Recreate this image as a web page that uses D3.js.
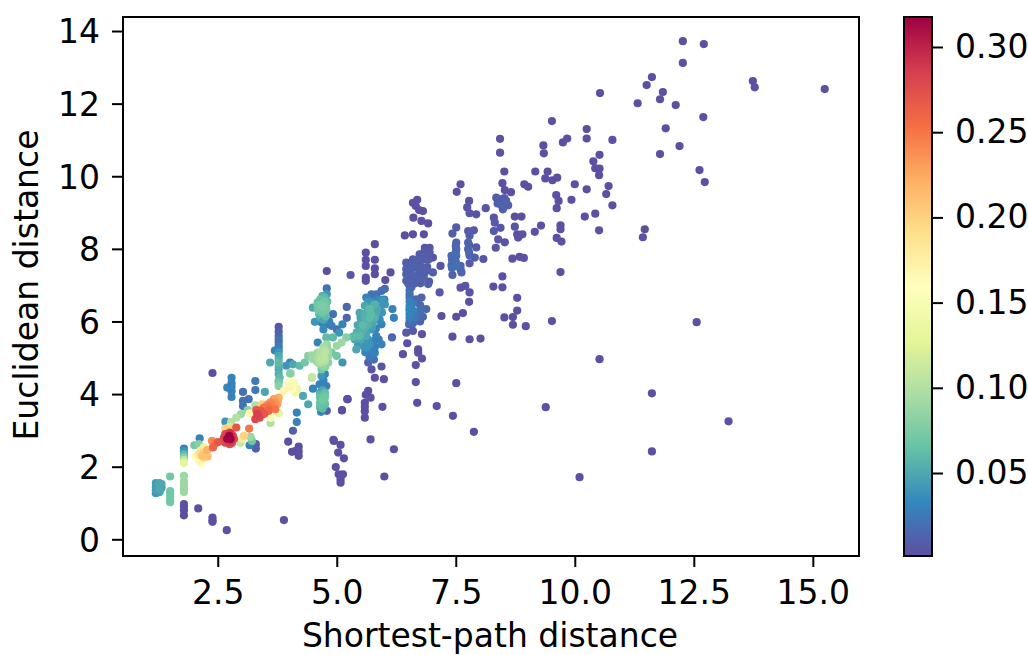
<!DOCTYPE html>
<html>
<head>
<meta charset="utf-8">
<script src="https://cdn.jsdelivr.net/npm/d3@7"></script>
<style>
  html, body { margin: 0; padding: 0; background: #fff; overflow: hidden; }
  svg { display: block; }
  text { font-family: "DejaVu Sans", sans-serif; fill: #000; }
</style>
</head>
<body>
<div id="chart"></div>
<script>
const xTicks = [2.5, 5, 7.5, 10, 12.5, 15];
const yTicks = [0, 2, 4, 6, 8, 10, 12, 14];
const colorTicks = [0.05, 0.1, 0.15, 0.2, 0.25, 0.3];
const colorRange = [0.0013, 0.3176];

// one line per cluster, same order in all three arrays
const shortestPath = [
  1.2,1.2,1.2,1.2,1.28,1.28,1.28,1.28,1.32,1.32,
  1.5,1.5,1.5,1.5,1.5,1.5,
  1.79,1.79,1.79,1.79,1.79,1.79,
  1.79,1.79,1.79,1.79,1.79,1.79,
  1.79,1.79,1.79,1.79,2.09,2.39,2.39,2.39,2.69,3.89,
  2.12,2.01,2.1,2.21,2.07,2.14,2.17,2.12,2.15,2.24,2.29,2.21,2.1,2.03,
  2.4,2.45,2.38,2.28,2.51,
  2.66,2.78,2.75,2.66,2.8,2.89,
  2.66,2.75,2.82,2.7,2.77,2.84,2.66,2.75,2.8,2.63,
  3.16,3.05,3.01,2.98,3.19,3.22,3.17,3.3,3.3,
  2.89,2.99,3.13,3.17,3.29,
  3.29,3.33,3.4,3.31,3.47,3.55,3.43,3.61,3.68,3.64,3.75,3.71,3.78,3.57,3.47,3.38,
  3.61,3.61,3.78,
  3.89,4.0,4.1,4.06,4.17,4.13,4.01,
  2.39,2.79,2.79,2.79,2.79,2.79,2.7,3.29,3.29,3.49,3.03,3.03,3.03,3.15,3.78,4.03,
  4.29,4.4,4.48,4.16,4.16,4.08,3.98,4.06,4.2,4.2,4.2,4.13,
  4.94,5.08,5.03,5.15,4.98,5.04,5.13,5.08,5.08,5.23,5.11,
  3.78,3.78,3.78,3.78,3.7,3.78,3.78,3.78,3.8,3.78,3.6,
  4.02,3.94,4.22,4.08,4.33,4.02,4.4,4.48,4.48,
  4.57,4.68,4.75,4.79,4.64,4.75,4.82,4.82,4.71,4.68,4.5,4.6,4.82,4.72,
  4.75,4.68,4.64,4.78,4.5,4.68,
  4.65,4.75,4.65,4.75,4.65,4.75,4.65,4.67,4.79,
  4.79,4.79,4.6,4.68,4.75,4.77,4.68,4.6,4.75,4.5,4.79,4.68,
  4.54,4.75,4.84,4.92,4.68,4.78,4.89,4.72,4.6,4.78,
  5.0,5.12,5.05,4.92,5.2,5.1,5.0,4.89,5.0,5.12,5.21,5.21,5.29,
  5.41,5.34,5.48,5.55,5.55,5.62,5.69,5.52,5.59,5.69,5.8,5.66,5.59,5.48,5.83,5.69,5.76,
  5.62,5.73,5.83,5.94,6.01,5.97,6.01,5.9,5.66,
  6.17,6.2,5.94,5.73,5.83,5.94,5.62,5.8,5.69,5.66,5.73,5.94,5.8,5.99,6.16,
  5.8,5.61,5.8,5.61,5.61,5.8,5.8,5.61,5.61,6.13,6.02,
  6.43,6.6,6.83,6.46,6.6,6.46,6.46,6.46,6.53,6.64,6.74,6.85,6.95,6.83,6.85,7.02,6.74,
  6.78,6.88,7.02,6.64,6.78,6.92,6.53,6.53,6.67,6.78,6.53,6.64,6.88,6.81,6.52,6.46,6.6,6.79,
  7.18,7.16,7.2,7.51,7.65,7.43,7.79,8.02,6.48,6.39,6.71,6.71,6.79,6.66,6.66,7.51,
  6.69,7.1,7.44,7.88,5.22,5.11,5.66,5.61,5.71,5.59,5.59,5.59,5.59,5.96,5.71,4.93,
  9.52,10.25,10.25,10.79,8.43,8.43,9.34,9.35,9.84,9.75,10.52,10.39,10.43,10.52,10.51,
  8.52,9.17,9.43,9.38,9.53,9.63,8.94,9.02,10.0,10.25,10.71,10.66,8.48,8.53,8.66,
  7.6,7.52,9.61,9.66,9.93,9.62,10.79,10.21,10.43,10.51,
  8.35,8.46,8.56,8.46,8.6,8.49,8.13,
  7.78,7.74,7.79,7.93,
  8.74,8.88,8.3,8.32,8.44,8.3,8.74,8.79,8.9,8.81,9.16,9.29,9.7,9.7,9.62,9.72,
  8.39,8.53,8.34,8.69,8.84,8.93,9.7,8.48,8.29,8.48,8.79,8.79,8.7,8.52,8.7,8.97,9.52,
  7.51,7.43,7.76,7.88,7.79,7.51,7.51,7.41,7.51,7.76,7.76,7.93,7.79,7.9,8.08,7.79,
  7.41,7.51,7.6,7.62,7.43,7.6,7.7,7.79,7.78,
  6.6,6.69,6.66,6.73,6.81,6.61,6.78,6.92,
  12.27,12.71,12.27,11.62,11.51,11.32,11.85,11.79,12.12,13.74,13.78,15.25,10.53,
  12.7,11.91,12.2,11.79,12.62,12.73,11.47,11.43,12.56,10.52,11.62,13.23,11.62,10.1,9.39,
  6.0,6.2,
  2.74,2.75,2.78,
  3.35,3.42,3.5,3.52,3.58,3.62,3.66,3.7,3.45,3.54,3.72,3.76,
  4.6,4.65,4.7,4.75,4.8,4.62,4.67,4.72,4.78,4.63,4.7,4.77,4.65,4.72,4.7,
  4.55,4.6,4.65,4.7,4.75,4.8,4.62,4.68,4.74,4.58,4.66,4.72,4.78,4.7,4.76,
  4.65,4.75,4.7,4.65,4.75,4.7,4.7,4.72,
  5.5,5.44,5.42,5.38,5.45,
  5.72,5.66,5.6,5.55,5.52,5.5,5.58,5.6,
  5.85,5.78,5.72,5.65,5.62,5.66,5.68,5.72,
  5.92,5.85,5.8,5.74,5.76,5.8,5.78,
  6.0,5.95,5.9,5.82,5.88,
  6.5,6.5,6.5,6.5,
  6.58,6.55,6.6,6.54,6.57,
  6.7,6.66,6.72,6.64,
  6.8,6.78,6.83,6.76,
  6.95,6.92,6.9,6.94,
  6.53,6.53,6.53,6.53,6.53,6.53,6.53,
  6.6,6.6,6.6,6.6,
  6.75,6.75,6.75,6.75,
  3.78,3.78,3.78,3.78,3.78,3.78,3.78,3.78,
  2.15,2.2,
  7.5,7.5,7.5,7.42,7.42,7.6,7.78,7.78,
  8.4,8.52,8.38,8.55
];
const euclidean = [
  1.55,1.45,1.35,1.27,1.55,1.47,1.38,1.3,1.52,1.42,
  1.73,1.33,1.25,1.17,1.08,1.02,
  2.5,2.42,2.34,2.26,2.18,2.1,
  1.75,1.6,1.5,1.42,1.35,1.3,
  0.97,0.9,0.8,0.66,0.85,0.6,0.52,0.48,0.25,0.53,
  2.78,2.59,2.62,2.53,2.3,2.39,2.3,2.16,2.1,2.34,2.28,2.25,2.34,2.28,
  2.53,2.64,2.71,2.46,2.68,
  3.24,3.23,3.1,3.05,3.03,3.08,
  2.9,2.94,2.85,2.77,2.76,2.76,2.66,2.62,2.65,2.8,
  3.05,2.85,2.77,2.66,2.82,2.71,2.59,2.62,2.5,
  3.35,3.45,3.56,3.47,3.69,
  3.31,3.45,3.54,3.56,3.63,3.67,3.72,3.77,3.86,3.63,3.72,3.58,3.9,3.54,3.45,3.35,
  3.35,3.2,3.47,
  4.09,4.32,4.32,4.13,4.13,4.04,4.2,
  4.58,4.45,4.3,4.2,4.08,3.92,4.18,4.36,4.11,4.06,4.06,3.81,3.67,3.86,4.36,4.57,
  3.95,3.72,4.45,3.49,3.23,2.99,2.69,2.41,2.55,2.42,2.3,2.43,
  2.71,2.6,2.39,2.23,1.99,1.79,1.79,1.65,1.56,3.86,3.56,
  5.85,5.6,5.42,5.23,5.2,5.05,4.87,4.68,4.45,4.22,4.87,
  4.87,4.78,4.78,4.82,4.87,4.57,5.05,5.07,4.47,
  5.0,5.1,5.23,5.37,4.91,4.91,5.05,5.19,4.77,4.68,4.96,5.14,4.87,5.05,
  4.55,4.5,4.27,4.22,4.15,4.22,
  4.04,4.04,3.9,3.9,3.76,3.76,3.63,3.51,3.54,
  6.91,7.39,6.52,6.57,6.66,6.47,6.38,6.34,6.29,6.38,6.75,6.23,
  5.99,6.1,6.0,6.2,5.97,5.92,5.88,5.78,5.42,5.56,
  5.78,5.92,5.69,5.56,5.56,5.42,5.33,5.14,5.05,4.87,6.4,6.1,7.28,
  5.23,5.58,5.6,5.78,5.42,5.6,5.37,6.0,6.2,6.34,6.47,6.0,6.43,6.24,6.24,6.1,5.97,
  6.66,6.75,6.75,6.84,6.9,6.57,6.47,6.38,6.54,
  6.34,6.1,5.92,5.78,5.6,5.37,5.28,5.14,5.0,4.87,4.68,4.76,4.45,4.41,5.56,
  8.13,7.9,7.7,7.7,7.53,7.46,7.3,7.21,7.12,7.35,7.14,
  8.37,8.4,8.4,7.62,7.71,7.44,7.3,7.12,6.98,7.48,7.85,8.03,8.03,7.9,7.71,7.76,7.62,
  7.39,7.39,7.35,7.16,7.16,7.03,6.66,6.43,6.61,6.66,6.2,6.1,6.34,6.13,5.92,5.69,5.74,5.65,
  7.53,6.8,6.15,6.13,6.23,5.58,5.51,5.53,5.4,5.1,5.23,5.14,4.98,4.8,4.33,4.3,
  3.76,3.67,3.4,2.96,3.86,3.55,4.09,3.98,3.9,3.76,3.65,3.53,3.35,3.65,2.75,2.74,
  11.52,11.3,11.04,11.0,11.03,10.65,10.85,10.63,11.04,10.93,10.59,10.41,10.22,10.21,10.03,
  10.13,10.13,10.13,9.94,9.89,9.96,9.78,9.71,9.78,9.64,9.73,9.51,9.81,9.62,9.56,
  9.78,9.57,9.48,9.32,9.35,9.12,9.2,8.89,8.97,8.51,
  9.41,9.37,9.32,9.2,9.2,9.09,9.12,
  9.32,9.14,8.98,8.95,
  8.89,8.89,8.86,8.72,8.58,8.49,8.61,8.4,8.4,8.31,8.47,8.64,8.65,8.54,8.3,8.2,
  8.26,8.18,8.03,7.73,7.78,7.75,7.36,7.24,6.96,6.94,6.65,6.3,6.12,6.11,5.91,5.87,6.01,
  8.59,8.42,8.49,8.51,8.36,8.17,7.99,7.81,7.81,8.17,7.99,8.04,7.82,7.76,7.72,7.6,
  7.55,7.53,7.53,7.35,7.28,6.93,6.98,6.8,6.54,
  9.27,9.35,9.18,9.07,9.04,8.86,8.77,8.7,
  13.72,13.64,13.12,12.73,12.51,12.01,12.32,12.12,11.96,12.62,12.45,12.4,12.29,
  11.63,11.32,10.83,10.61,10.17,9.84,8.54,8.32,5.98,4.96,4.02,3.25,2.42,1.71,3.64,
  1.73,2.48,
  2.85,2.68,2.9,
  3.4,3.45,3.5,3.6,3.6,3.68,3.72,3.75,3.6,3.72,3.85,3.8,
  6.45,6.6,6.65,6.55,6.55,6.3,6.45,6.4,6.35,6.2,6.25,6.15,6.1,6.05,6.7,
  5.05,5.0,5.05,5.2,5.15,5.3,4.85,4.95,5.0,4.9,5.15,5.3,5.1,4.85,4.75,
  3.97,3.97,3.83,3.7,3.7,4.1,3.6,4.38,
  6.1,5.9,5.7,5.5,5.35,
  6.55,6.3,6.1,5.9,5.7,5.5,5.3,5.15,
  6.6,6.45,6.2,5.9,5.68,5.5,5.2,5.05,
  6.6,6.35,6.1,5.85,5.45,5.3,4.95,
  6.6,6.25,6.05,5.8,5.5,
  7.55,7.38,7.2,7.05,
  7.6,7.4,7.25,7.1,6.95,
  7.7,7.55,7.3,7.05,
  7.8,7.5,7.25,7.05,
  7.9,7.7,7.5,7.1,
  6.85,6.75,6.55,6.35,6.3,6.1,6.0,
  6.5,6.3,6.15,5.95,
  6.45,6.3,6.2,6.0,
  5.72,5.5,5.32,5.15,4.95,4.78,4.55,4.33,
  2.45,2.38,
  7.65,7.9,8.08,7.7,7.47,7.43,7.9,8.1,
  9.3,9.4,9.25,9.28
];
const closeness = [
  .045,.045,.045,.04,.05,.05,.05,.045,.05,.045,
  .07,.07,.07,.07,.07,.07,
  .03,.04,.06,.08,.11,.13,
  .09,.09,.09,.09,.09,.09,
  .003,.003,.002,.002,.002,.002,.002,.002,.002,.002,
  .03,.07,.08,.13,.17,.19,.21,.17,.16,.21,.21,.2,.18,.16,
  .26,.25,.24,.22,.27,
  .04,.1,.12,.2,.2,.27,
  .28,.285,.28,.317,.317,.285,.28,.275,.275,.28,
  .25,.2,.18,.11,.09,.07,.03,.01,.01,
  .1,.09,.08,.17,.1,
  .28,.285,.27,.27,.25,.25,.2,.24,.23,.245,.23,.25,.22,.26,.27,.28,
  .15,.1,.13,
  .17,.15,.15,.16,.14,.14,.17,
  .001,.03,.03,.03,.03,.03,.03,.025,.025,.05,.02,.02,.02,.02,.05,.08,
  .05,.05,.09,.03,.03,.01,.002,.002,.002,.002,.002,.002,
  .002,.002,.002,.002,.002,.002,.002,.002,.002,.002,.002,
  .005,.015,.02,.03,.03,.05,.06,.05,.06,.08,.05,
  .03,.04,.06,.05,.07,.08,.08,.09,.11,
  .09,.1,.1,.09,.1,.1,.09,.09,.085,.07,.09,.09,.08,.1,
  .03,.04,.03,.025,.03,.03,
  .05,.06,.065,.07,.065,.065,.055,.03,.01,
  .02,.001,.06,.065,.06,.07,.07,.07,.07,.05,.04,.06,
  .04,.05,.03,.02,.03,.025,.025,.035,.03,.06,
  .02,.03,.04,.06,.08,.09,.09,.07,.07,.04,.015,.015,.005,
  .05,.06,.06,.055,.04,.05,.04,.05,.055,.06,.055,.055,.05,.05,.05,.06,.05,
  .03,.02,.02,.02,.015,.04,.04,.04,.04,
  .03,.03,.03,.04,.03,.03,.04,.03,.02,.01,.005,.005,.002,.002,.015,
  .001,.002,.002,.002,.002,.002,.002,.002,.002,.002,.002,
  .001,.001,.001,.01,.01,.01,.012,.012,.012,.01,.008,.005,.004,.008,.009,.006,.01,
  .01,.01,.01,.012,.012,.011,.02,.03,.015,.012,.03,.025,.015,.015,.015,.008,.008,.003,
  .006,.005,.002,.002,.002,.002,.002,.002,.002,.002,.002,.002,.002,.002,.002,.002,
  .002,.002,.002,.002,.002,.002,.002,.002,.002,.002,.002,.002,.002,.002,.002,.002,
  .002,.002,.002,.002,.002,.002,.002,.002,.002,.002,.002,.002,.002,.002,.002,
  .002,.002,.002,.002,.002,.002,.002,.002,.002,.002,.002,.002,.002,.002,.002,
  .002,.002,.002,.002,.002,.002,.002,.002,.002,.002,
  .008,.01,.009,.012,.01,.01,.005,
  .003,.005,.005,.004,
  .002,.002,.006,.008,.006,.007,.004,.003,.003,.003,.002,.002,.002,.002,.002,.002,
  .005,.004,.004,.002,.002,.002,.002,.002,.002,.002,.002,.002,.002,.002,.002,.002,.002,
  .008,.01,.008,.007,.009,.012,.014,.016,.018,.012,.014,.008,.013,.01,.005,.008,
  .018,.02,.015,.012,.012,.004,.004,.004,.002,
  .002,.002,.002,.002,.002,.002,.002,.002,
  .002,.002,.002,.002,.002,.002,.002,.002,.002,.002,.002,.002,.002,
  .002,.002,.002,.002,.002,.002,.002,.002,.002,.002,.002,.002,.002,.002,.002,
  .002,.002,
  .317,.29,.29,
  .28,.27,.26,.25,.255,.245,.24,.235,.24,.225,.22,.225,
  .07,.065,.06,.07,.06,.07,.075,.075,.07,.06,.07,.06,.05,.05,.05,
  .09,.095,.1,.1,.105,.09,.095,.105,.105,.09,.1,.095,.09,.09,.08,
  .06,.065,.07,.065,.06,.05,.06,.03,
  .045,.05,.055,.05,.04,
  .035,.05,.055,.06,.055,.05,.04,.03,
  .03,.05,.06,.055,.05,.04,.03,.025,
  .035,.05,.055,.045,.03,.025,.02,
  .03,.04,.035,.03,.025,
  .011,.011,.011,.011,
  .012,.012,.012,.012,.012,
  .011,.011,.011,.011,
  .01,.01,.01,.01,
  .008,.008,.008,.008,
  .018,.02,.028,.032,.032,.028,.02,
  .025,.028,.025,.015,
  .016,.02,.018,.012,
  .01,.02,.025,.04,.055,.055,.055,.07,
  .18,.2,
  .018,.015,.013,.016,.018,.014,.013,.012,
  .011,.011,.011,.011
];

if (shortestPath.length !== euclidean.length || euclidean.length !== closeness.length) {
  throw new Error(`array lengths differ: ${shortestPath.length} ${euclidean.length} ${closeness.length}`);
}

const width = 1028, height = 655;
const margin = { left: 123, right: 169, top: 17, bottom: 99 };
const innerRight = width - margin.right, innerBottom = height - margin.bottom;

const svg = d3.select("#chart").append("svg")
  .attr("width", width)
  .attr("height", height);

const xScale = d3.scaleLinear().domain([0.51, 15.97]).range([margin.left, innerRight]);
const yScale = d3.scaleLinear().domain([-0.46, 14.386]).range([innerBottom, margin.top]);

// same as matplotlib's Spectral_r, straight segments between the 11 brewer colours
const spectral = d3.piecewise(d3.interpolateRgb, d3.schemeSpectral[11].slice().reverse());
const color = d3.scaleSequential(spectral).domain(colorRange);

// highest values are painted last
const order = d3.range(shortestPath.length).sort((a, b) => closeness[a] - closeness[b]);

svg.append("g")
  .selectAll("circle")
  .data(order)
  .join("circle")
  .attr("cx", (i) => xScale(shortestPath[i]))
  .attr("cy", (i) => yScale(euclidean[i]))
  .attr("r", 4.1)
  .attr("fill", (i) => color(closeness[i]));

function styleAxis(g) {
  g.select(".domain").remove();
  g.selectAll(".tick line").attr("stroke", "#000").attr("stroke-width", 2);
  g.selectAll(".tick text").style("font-size", "33px");
}

svg.append("g")
  .attr("transform", `translate(0,${innerBottom})`)
  .call(d3.axisBottom(xScale).tickValues(xTicks).tickFormat(d3.format(".1f")).tickSize(11).tickPadding(14))
  .call(styleAxis);

svg.append("g")
  .attr("transform", `translate(${margin.left},0)`)
  .call(d3.axisLeft(yScale).tickValues(yTicks).tickFormat(d3.format("d")).tickSize(11).tickPadding(12))
  .call(styleAxis)
  .selectAll(".tick text").attr("dy", "0.36em");

svg.append("rect")
  .attr("x", margin.left)
  .attr("y", margin.top)
  .attr("width", innerRight - margin.left)
  .attr("height", innerBottom - margin.top)
  .attr("fill", "none")
  .attr("stroke", "#000")
  .attr("stroke-width", 2);

svg.append("text")
  .text("Shortest-path distance")
  .attr("x", 490)
  .attr("y", 647)
  .attr("text-anchor", "middle")
  .style("font-size", "33px");

svg.append("text")
  .text("Euclidean distance")
  .attr("transform", `translate(38,285) rotate(-90)`)
  .attr("text-anchor", "middle")
  .style("font-size", "33px");

// colour bar
const barLeft = 904, barWidth = 28;
const barScale = d3.scaleLinear().domain(colorRange).range([innerBottom, margin.top]);

const gradient = svg.append("defs").append("linearGradient")
  .attr("id", "bar-gradient")
  .attr("x1", 0).attr("y1", 1).attr("x2", 0).attr("y2", 0);

gradient.selectAll("stop")
  .data(d3.schemeSpectral[11].slice().reverse())
  .join("stop")
  .attr("offset", (d, i) => i / 10)
  .attr("stop-color", (d) => d);

svg.append("rect")
  .attr("x", barLeft)
  .attr("y", margin.top)
  .attr("width", barWidth)
  .attr("height", innerBottom - margin.top)
  .attr("fill", "url(#bar-gradient)")
  .attr("stroke", "#000")
  .attr("stroke-width", 2);

svg.append("g")
  .attr("transform", `translate(${barLeft + barWidth},0)`)
  .call(d3.axisRight(barScale).tickValues(colorTicks).tickFormat(d3.format(".2f")).tickSize(11).tickPadding(12))
  .call(styleAxis);
</script>
</body>
</html>
